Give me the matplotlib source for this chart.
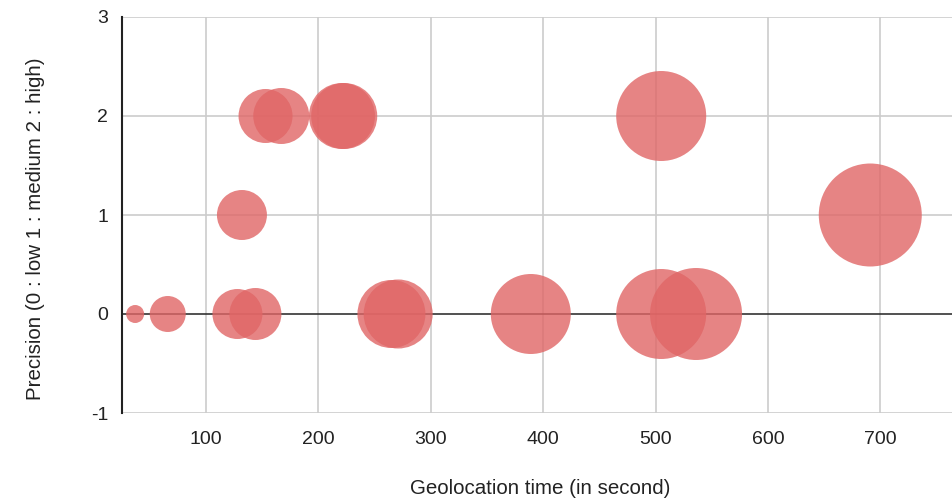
import matplotlib
matplotlib.use("Agg")
import matplotlib.pyplot as plt

# Data
geo_time = [37, 66, 128, 144, 132, 153, 167, 221, 223, 265, 271, 389, 505, 536, 505, 691]
precision = [0, 0, 0, 0, 1, 2, 2, 2, 2, 0, 0, 0, 0, 0, 2, 1]
bubble_size = [9, 18, 25, 26, 25, 27, 28, 33, 33, 34, 34.5, 40, 45, 46, 45, 51.5]

x_ticks = [100, 200, 300, 400, 500, 600, 700]
y_ticks = [-1, 0, 1, 2, 3]
x_label = "Geolocation time (in second)"
y_label = "Precision (0 : low 1 : medium 2 : high)"

plt.rcParams['font.family'] = ['Liberation Sans', 'DejaVu Sans']
plt.rcParams['axes.unicode_minus'] = False

W, H = 953, 498
fig = plt.figure(figsize=(W / 100, H / 100), dpi=100)
ax = fig.add_axes([122 / W, (H - 413) / H, (953 - 122) / W, (413 - 17) / H])

ax.set_xlim(25.3, 764.6)
ax.set_ylim(-1, 3)

# grid
for xt in x_ticks:
    ax.axvline(xt, color='#cccccc', lw=1.2, zorder=1)
for yt in y_ticks:
    if yt != 0:
        ax.axhline(yt, color='#cccccc', lw=1.2, zorder=1)
ax.axhline(0, color='#333333', lw=1.2, zorder=2)

# bubbles: radius in pixels -> marker area in points^2
sizes = [(2 * r * 72 / 100) ** 2 for r in bubble_size]
ax.scatter(geo_time, precision, s=sizes, color='#e06666', alpha=0.8,
           edgecolors='none', zorder=3)

for side in ['top', 'right', 'bottom']:
    ax.spines[side].set_visible(False)
ax.spines['left'].set_color('#222222')
ax.spines['left'].set_linewidth(1.5)
ax.spines['left'].set_zorder(4)

ax.set_xticks(x_ticks)
ax.set_yticks(y_ticks)
ax.tick_params(axis='both', length=0, labelsize=14, labelcolor='#222222')
ax.tick_params(axis='x', pad=13)
ax.tick_params(axis='y', pad=10)

fig.text(540 / W, 1 - 488 / H, x_label, fontsize=14.8, color='#222222',
         ha='center', va='center')
fig.text(36 / W, 1 - 229 / H, y_label, fontsize=14.8, color='#222222',
         ha='center', va='center', rotation=90)

fig.savefig("out.png", dpi=100)
